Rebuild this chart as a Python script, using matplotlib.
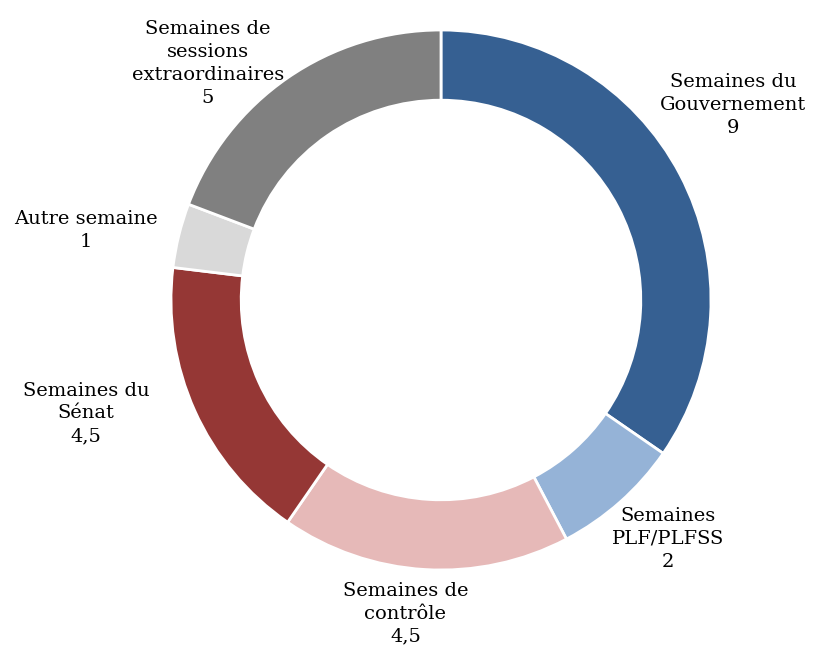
import numpy as np
import matplotlib
matplotlib.use("Agg")
import matplotlib.pyplot as plt

# data
categories = ["Semaines du\nGouvernement", "Semaines\nPLF/PLFSS", "Semaines de\ncontrôle",
              "Semaines du\nSénat", "Autre semaine", "Semaines de\nsessions\nextraordinaires"]
values = [9, 2, 4.5, 4.5, 1, 5]
value_labels = ["9", "2", "4,5", "4,5", "1", "5"]
colors = ["#366092", "#95b3d7", "#e6b9b8", "#953735", "#d9d9d9", "#808080"]

# label placement: radius and angle nudge (deg) relative to wedge middle
label_r = [1.30, 1.22, 1.17, 1.38, 1.34, 1.23]
label_dang = [6.0, 2.0, -3.0, -6.5, 2.7, 10.0]

plt.rcParams['font.family'] = ['DejaVu Serif']

fig = plt.figure(figsize=(8.13, 6.55), dpi=100)
ax = fig.add_axes([0, 0, 1, 1])

wedges, _ = ax.pie(values, colors=colors, startangle=90, counterclock=False,
                   radius=1.0, wedgeprops=dict(width=0.26, edgecolor="white", linewidth=2))

for w, cat, vl, r, da in zip(wedges, categories, value_labels, label_r, label_dang):
    mid = np.deg2rad((w.theta1 + w.theta2) / 2 + da)
    ax.text(r * np.cos(mid), r * np.sin(mid), cat + "\n" + vl, ha="center", va="center",
            fontsize=14, color="black", linespacing=1.35)

ax.set_xlim(-441 / 270, (813 - 441) / 270)
ax.set_ylim(-355 / 270, 300 / 270)
ax.set_aspect("auto")
ax.axis("off")

fig.savefig("out.png", dpi=100)
